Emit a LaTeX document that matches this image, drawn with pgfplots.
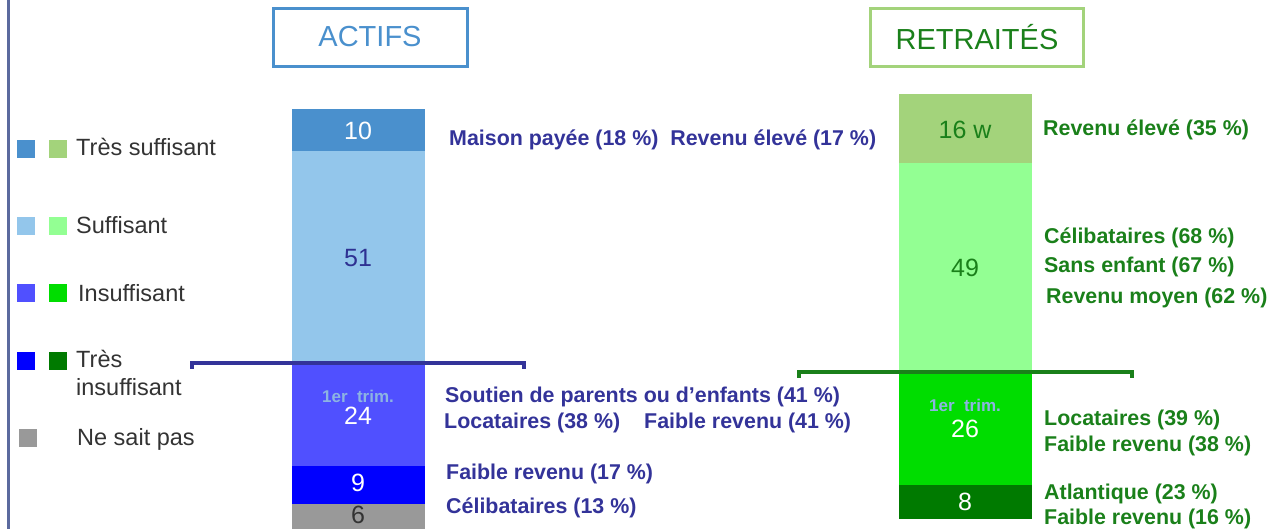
\documentclass[border=0pt]{standalone}
\usepackage{pgfplots}
\pgfplotsset{compat=1.18}
\usepackage{fontspec}
\setmainfont{Liberation Sans}
\definecolor{aTS}{HTML}{4A90CD}
\definecolor{aS}{HTML}{93C6EB}
\definecolor{aI}{HTML}{5050FF}
\definecolor{aTI}{HTML}{0000FF}
\definecolor{nsp}{HTML}{999999}
\definecolor{rTS}{HTML}{A3D37B}
\definecolor{rS}{HTML}{93FF93}
\definecolor{rI}{HTML}{00DD00}
\definecolor{rTI}{HTML}{007A00}
\definecolor{navy}{HTML}{333399}
\definecolor{dgreen}{HTML}{1A801A}
\definecolor{trim}{HTML}{8DB4E2}
\definecolor{legtxt}{HTML}{333333}
\definecolor{vline}{HTML}{5B6A9E}
\definecolor{numblue}{HTML}{2E3192}
\newcommand{\ann}{\fontsize{21.4}{25}\selectfont\bfseries}
\newcommand{\leg}{\fontsize{23.5}{28}\selectfont}
\newcommand{\num}{\fontsize{25}{29}\selectfont}
\newcommand{\trm}{\fontsize{17}{19}\selectfont\bfseries}
\begin{document}
\begin{tikzpicture}[x=1pt,y=1pt]
\path[use as bounding box] (0,0) rectangle (1269,529);
% ACTIFS bar
\begin{axis}[at={(292pt,0pt)},anchor=south west,scale only axis,width=133pt,height=420pt,
  xmin=-0.5,xmax=0.5,ymin=0,ymax=100,hide axis,ybar stacked,bar width=133pt,clip=false]
\addplot[fill=nsp,draw=none] coordinates {(0,6)};
\addplot[fill=aTI,draw=none] coordinates {(0,9)};
\addplot[fill=aI,draw=none] coordinates {(0,24)};
\addplot[fill=aS,draw=none] coordinates {(0,51)};
\addplot[fill=aTS,draw=none] coordinates {(0,10)};
\end{axis}
% RETRAITES bar
\begin{axis}[at={(899pt,10pt)},anchor=south west,scale only axis,width=133pt,height=425pt,
  xmin=-0.5,xmax=0.5,ymin=0,ymax=99,hide axis,ybar stacked,bar width=133pt,clip=false]
\addplot[fill=rTI,draw=none] coordinates {(0,8)};
\addplot[fill=rI,draw=none] coordinates {(0,26)};
\addplot[fill=rS,draw=none] coordinates {(0,49)};
\addplot[fill=rTS,draw=none] coordinates {(0,16)};
\end{axis}
% left vertical line
\draw[vline,line width=3.5pt] (8.5,0) -- (8.5,529);
% title boxes
\draw[aTS,line width=3pt] (273.5,529-8.5) rectangle (467.5,529-66.5);
\node[aTS,font=\fontsize{29}{33}\selectfont] at (370,529-37) {ACTIFS};
\draw[rTS,line width=3pt] (870.5,529-8.5) rectangle (1083.5,529-66.5);
\node[dgreen,font=\fontsize{29}{33}\selectfont] at (977,529-37) {RETRAITÉS};
% bar value labels
\node[white,font=\num] at (358,529-131) {10};
\node[numblue,font=\num] at (358,529-258) {51};
\node[trim,font=\trm] at (358,529-396) {1er\ \ trim.};
\node[white,font=\num] at (358,529-416) {24};
\node[white,font=\num] at (358,529-483) {9};
\node[legtxt,font=\num] at (358,529-515) {6};
\node[dgreen,font=\num] at (965,529-130) {16 w};
\node[dgreen,font=\num] at (965,529-268) {49};
\node[trim,font=\trm] at (965,529-405) {1er\ \ trim.};
\node[white,font=\num] at (965,529-429) {26};
\node[white,font=\num] at (965,529-502) {8};
% brackets
\draw[navy,line width=3.5pt] (192,529-369) -- (192,529-363) -- (524,529-363) -- (524,529-369);
\draw[dgreen,line width=3.5pt] (799,529-378) -- (799,529-372) -- (1132,529-372) -- (1132,529-378);
% annotations ACTIFS
\begin{scope}[every node/.style={anchor=west,inner sep=0pt,font=\ann,text=navy}]
\node at (449,529-140) {Maison payée (18 \%)\ \ Revenu élevé (17 \%)};
\node at (445,529-397) {Soutien de parents ou d’enfants (41 \%)};
\node at (444,529-423) {Locataires (38 \%)};
\node at (644,529-423) {Faible revenu (41 \%)};
\node at (446,529-474) {Faible revenu (17 \%)};
\node at (446,529-508) {Célibataires (13 \%)};
\end{scope}
\begin{scope}[every node/.style={anchor=west,inner sep=0pt,font=\ann,text=dgreen}]
\node at (1043,529-130) {Revenu élevé (35 \%)};
\node at (1044,529-238) {Célibataires (68 \%)};
\node at (1044,529-267) {Sans enfant (67 \%)};
\node at (1046,529-298) {Revenu moyen (62 \%)};
\node at (1044,529-420) {Locataires (39 \%)};
\node at (1044,529-446) {Faible revenu (38 \%)};
\node at (1044,529-494) {Atlantique (23 \%)};
\node at (1044,529-519) {Faible revenu (16 \%)};
\end{scope}
% legend
\fill[aTS] (17,529-140) rectangle (35,529-158);
\fill[rTS] (49,529-140) rectangle (67,529-158);
\fill[aS] (17,529-217) rectangle (35,529-235);
\fill[rS] (49,529-217) rectangle (67,529-235);
\fill[aI] (17,529-284) rectangle (35,529-302);
\fill[rI] (49,529-284) rectangle (67,529-302);
\fill[aTI] (17,529-352) rectangle (35,529-370);
\fill[rTI] (49,529-352) rectangle (67,529-370);
\fill[nsp] (19,529-429) rectangle (37,529-447);
\begin{scope}[every node/.style={anchor=west,inner sep=0pt,font=\leg,text=legtxt}]
\node at (76,529-147) {Très suffisant};
\node at (76,529-225) {Suffisant};
\node at (78,529-293) {Insuffisant};
\node at (76,529-359) {Très};
\node at (76,529-387) {insuffisant};
\node at (77,529-439) {Ne sait pas};
\end{scope}
\end{tikzpicture}
\end{document}
